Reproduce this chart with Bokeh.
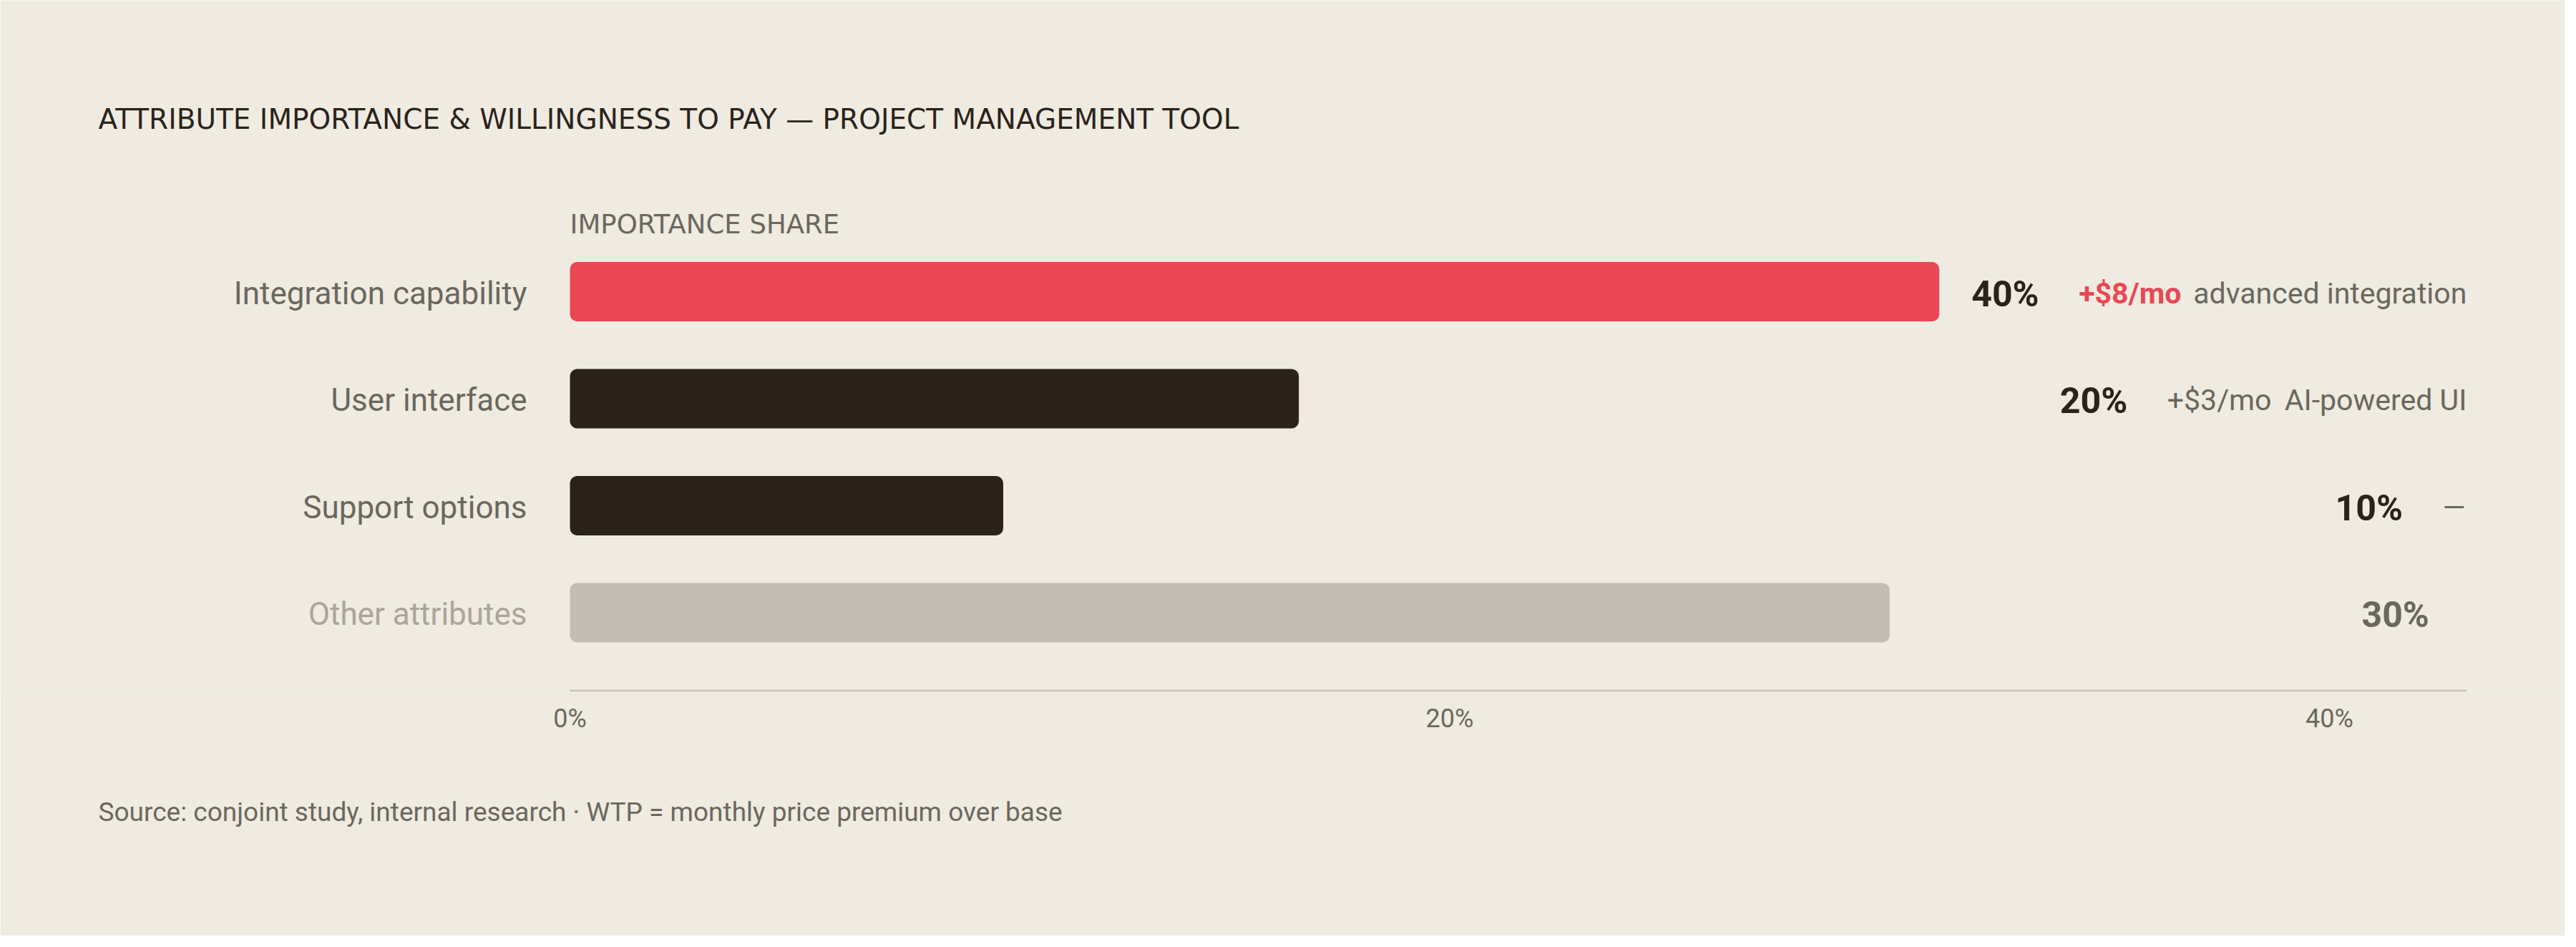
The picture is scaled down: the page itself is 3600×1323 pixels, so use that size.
from bokeh.plotting import figure
from bokeh.models import Range1d, Label, FixedTicker, ColumnDataSource, Title
from bokeh.core.properties import value
from bokeh.embed import file_html
from bokeh.resources import INLINE

# ---------------- data ----------------
title_text = "ATTRIBUTE IMPORTANCE & WILLINGNESS TO PAY \u2014 PROJECT MANAGEMENT TOOL"
subtitle_text = "IMPORTANCE SHARE"
footer_text = "Source: conjoint study, internal research \u00b7 WTP = monthly price premium over base"

categories = ["Integration capability", "User interface", "Support options", "Other attributes"]
shares = [40, 20, 10, 30]
share_labels = ["40%", "20%", "10%", "30%"]
wtp_amounts = ["+$8/mo", "+$3/mo", "\u2014", ""]
wtp_notes = ["advanced integration", "AI-powered UI", "", ""]
tick_values = [0, 20, 40]
tick_labels = ["0%", "20%", "40%"]

# ---------------- style ----------------
BG = "#EFEBE1"
RED = "#E84855"
DARK = "#2B231B"
BARGRAY = "#C4BDB3"
MUTED = "#6B675D"
FAINT = "#ABA599"
AXIS = "#C9C3B8"
FONT = "Roboto"
HEAD_FONT = "DejaVu Sans"

bar_colors = [RED, DARK, DARK, BARGRAY]
label_colors = [MUTED, MUTED, MUTED, FAINT]
share_colors = [DARK, DARK, DARK, MUTED]
amount_colors = [RED, MUTED, MUTED, MUTED]
amount_weights = ["bold", "normal", "normal", "normal"]

# ---------------- layout (pixels) ----------------
FIG_W, FIG_H = 3584, 1307
FRAME_H = 966            # frame bottom = axis line
X0_PX = 796              # where 0% sits
PX_PER_PCT = 61.475
ROW_STEP = 149.5
ROW1_PX = 407
AXIS_END = 43.12         # right end of the axis line, in % units
# each row's bar track ends where its annotation begins (in % units of the axis)
track_end = [31.13, 33.14, 39.40, 40.0]

x_start = -X0_PX / PX_PER_PCT
x_end = (FIG_W - X0_PX) / PX_PER_PCT
n = len(categories)
ys = [n - 1 - i for i in range(n)]
y_end = (n - 1) + ROW1_PX / ROW_STEP
y_start = (n - 1) - (FRAME_H - ROW1_PX) / ROW_STEP
max_share = max(shares)

p = figure(width=FIG_W, height=FIG_H,
           x_range=Range1d(x_start, x_end), y_range=Range1d(y_start, y_end),
           output_backend="svg", toolbar_location=None, title=None,
           y_axis_location=None,
           min_border_left=0, min_border_right=0, min_border_top=0,
           min_border_bottom=FIG_H - FRAME_H,
           background_fill_color=BG, border_fill_color=BG, outline_line_color=None)
p.xgrid.visible = False
p.ygrid.visible = False

# per-row track scales
for i in range(n):
    s = track_end[i] / max_share
    p.extra_x_ranges[f"row{i}"] = Range1d(x_start / s, x_end / s)

for i in range(n):
    rn = f"row{i}"
    src = ColumnDataSource(dict(y=[ys[i]], v=[shares[i]]))
    p.hbar(y="y", left=0, right="v", height=83 / ROW_STEP, source=src,
           x_range_name=rn, fill_color=bar_colors[i], line_color=None,
           border_radius=10)
    # category label
    p.text(x=[0], y=[ys[i]], text=[categories[i]], x_offset=-60, y_offset=2,
           text_align="right", text_baseline="alphabetic",
           text_font=value(FONT), text_font_size="44px", text_color=label_colors[i])
    # share label
    p.text(x=[max_share], y=[ys[i]], text=[share_labels[i]], x_range_name=rn,
           x_offset=45, y_offset=3, text_align="left", text_baseline="alphabetic",
           text_font=value(FONT), text_font_size="50px", text_font_style="bold",
           text_color=share_colors[i])
    if wtp_amounts[i]:
        p.text(x=[max_share], y=[ys[i]], text=[wtp_amounts[i]], x_range_name=rn,
               x_offset=195, y_offset=2, text_align="left", text_baseline="alphabetic",
               text_font=value(FONT), text_font_size="41px",
               text_font_style=amount_weights[i], text_color=amount_colors[i])
    if wtp_notes[i]:
        p.text(x=[AXIS_END], y=[ys[i]], text=[wtp_notes[i]], y_offset=2,
               text_align="right", text_baseline="alphabetic",
               text_font=value(FONT), text_font_size="41px", text_color=MUTED)

# axis line
p.segment(x0=[0], x1=[AXIS_END], y0=[y_start + 0.01], y1=[y_start + 0.01],
          line_color=AXIS, line_width=3)

ax = p.xaxis[0]
ax.ticker = FixedTicker(ticks=tick_values)
ax.major_label_overrides = {t: l for t, l in zip(tick_values, tick_labels)}
ax.axis_line_color = None
ax.major_tick_line_color = None
ax.minor_tick_line_color = None
ax.major_label_standoff = 10
ax.major_label_text_font = FONT
ax.major_label_text_font_size = "36px"
ax.major_label_text_color = MUTED

p.add_layout(Label(x=137, y=FRAME_H - 166, x_units="screen", y_units="screen",
                   text=title_text, text_font=HEAD_FONT, text_font_size="39px",
                   text_color=DARK, text_baseline="alphabetic"))
p.add_layout(Label(x=X0_PX, y=FRAME_H - 313, x_units="screen", y_units="screen",
                   text=subtitle_text, text_font=HEAD_FONT, text_font_size="37px",
                   text_color=MUTED, text_baseline="alphabetic"))
p.add_layout(Title(text=footer_text, align="left", offset=137, standoff=167,
                   text_font=FONT, text_font_size="37px", text_font_style="normal",
                   text_color=MUTED), "below")

open("out.html", "w").write(file_html(p, INLINE))
